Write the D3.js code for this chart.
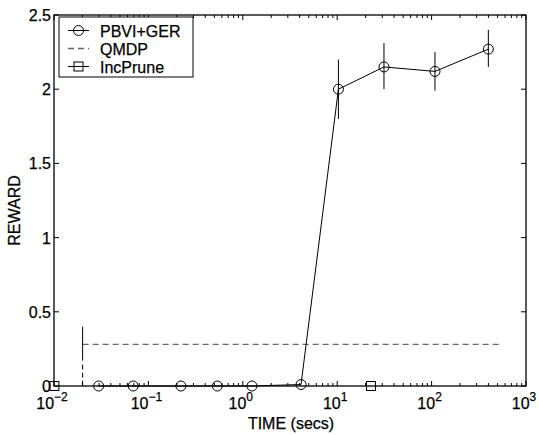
<!DOCTYPE html>
<html>
<head>
<meta charset="utf-8">
<style>
  body { margin: 0; background: #fff; }
  svg text { font-family: "Liberation Sans", Arial, sans-serif; fill: #000; stroke: #000; stroke-width: 0.25; }
</style>
</head>
<body>
<svg id="chart"></svg>
<script src="https://cdn.jsdelivr.net/npm/d3@7"></script>
<script>
// PBVI+GER series (time in secs, reward, error bar low/high)
const pbviTime = [0.0297, 0.069, 0.221, 0.537, 1.25, 4.14, 10.3, 31.3, 108.6, 399];
const pbviReward = [0, 0, 0, 0, 0, 0.01, 2.0, 2.15, 2.12, 2.27];
const pbviErrLow = [null, null, null, null, null, null, 1.80, 2.00, 1.99, 2.15];
const pbviErrHigh = [null, null, null, null, null, null, 2.20, 2.31, 2.25, 2.40];

// QMDP: constant reward over time
const qmdpTime = [0.0201, 553];
const qmdpReward = [0.28, 0.28];
const qmdpErr = [0, 0.40];

// IncPrune
const incTime = [0.0101, 22.8];
const incReward = [0, 0];

const xTickExps = [-2, -1, 0, 1, 2, 3];
const yTicks = [0, 0.5, 1, 1.5, 2, 2.5];
const yTickLabels = ["0", "0.5", "1", "1.5", "2", "2.5"];
const legendNames = ["PBVI+GER", "QMDP", "IncPrune"];

const W = 539, H = 435;
const m = {left: 54, top: 15, right: 13, bottom: 49};
const iw = W - m.left - m.right, ih = H - m.top - m.bottom;

const svg = d3.select("#chart").attr("width", W).attr("height", H);
const g = svg.append("g").attr("transform", "translate(" + m.left + "," + m.top + ")");

const x = d3.scaleLog().domain([1e-2, 1e3]).range([0, iw]);
const y = d3.scaleLinear().domain([0, 2.5]).range([ih, 0]);

// minor/major ticks, inward on all four sides
const majors = xTickExps.map(e => Math.pow(10, e));
const minors = [];
xTickExps.slice(0, -1).forEach(e => {
  for (let k = 2; k <= 9; k++) minors.push(k * Math.pow(10, e));
});

const ticks = g.append("g").attr("stroke", "#000").attr("stroke-width", 1);
majors.forEach(v => {
  ticks.append("line").attr("x1", x(v)).attr("x2", x(v)).attr("y1", ih).attr("y2", ih - 5);
  ticks.append("line").attr("x1", x(v)).attr("x2", x(v)).attr("y1", 0).attr("y2", 5);
});
minors.forEach(v => {
  ticks.append("line").attr("x1", x(v)).attr("x2", x(v)).attr("y1", ih).attr("y2", ih - 3);
  ticks.append("line").attr("x1", x(v)).attr("x2", x(v)).attr("y1", 0).attr("y2", 3);
});
yTicks.forEach(v => {
  ticks.append("line").attr("x1", 0).attr("x2", 5).attr("y1", y(v)).attr("y2", y(v));
  ticks.append("line").attr("x1", iw).attr("x2", iw - 5).attr("y1", y(v)).attr("y2", y(v));
});

// frame
g.append("rect").attr("width", iw).attr("height", ih)
  .attr("fill", "none").attr("stroke", "#000").attr("stroke-width", 1.3);

// y tick labels
g.selectAll(".ylab").data(yTicks).enter().append("text")
  .attr("x", -3).attr("y", d => y(d) + 6)
  .attr("text-anchor", "end").attr("font-size", 16)
  .text((d, i) => yTickLabels[i]);

// x tick labels: 10^e
xTickExps.forEach(e => {
  const t = g.append("text").attr("x", x(Math.pow(10, e)) - 2).attr("y", ih + 23)
    .attr("text-anchor", "middle").attr("font-size", 16);
  t.append("tspan").text("10");
  t.append("tspan").attr("dy", -8).attr("font-size", 12).text(e < 0 ? "\u2212" + (-e) : e);
});

// axis labels
g.append("text").attr("x", iw / 2 + 1).attr("y", ih + 43)
  .attr("text-anchor", "middle").attr("font-size", 16).text("TIME (secs)");
g.append("text").attr("transform", "translate(" + (-34) + "," + (ih / 2 + 10) + ") rotate(-90)")
  .attr("text-anchor", "middle").attr("font-size", 16).text("REWARD");

// QMDP
g.append("line")
  .attr("x1", x(qmdpTime[0])).attr("x2", x(qmdpTime[1]))
  .attr("y1", y(qmdpReward[0])).attr("y2", y(qmdpReward[1]))
  .attr("stroke", "#666").attr("stroke-width", 1.3).attr("stroke-dasharray", "6,4");
g.append("line")
  .attr("x1", x(qmdpTime[0])).attr("x2", x(qmdpTime[0]))
  .attr("y1", y(qmdpErr[1])).attr("y2", y(qmdpErr[0]))
  .attr("stroke", "#000").attr("stroke-width", 1).attr("stroke-dasharray", "34,4,5,3,5,3,5,3");

// PBVI+GER
const pts = pbviTime.map((t, i) => ({t: t, r: pbviReward[i], lo: pbviErrLow[i], hi: pbviErrHigh[i]}));
g.append("path").datum(pts)
  .attr("d", d3.line().x(d => x(d.t)).y(d => y(d.r)))
  .attr("fill", "none").attr("stroke", "#000").attr("stroke-width", 1);
g.selectAll(".err").data(pts.filter(d => d.lo != null)).enter().append("line")
  .attr("x1", d => x(d.t)).attr("x2", d => x(d.t))
  .attr("y1", d => y(d.lo)).attr("y2", d => y(d.hi))
  .attr("stroke", "#000").attr("stroke-width", 1);
g.selectAll(".pc").data(pts).enter().append("circle")
  .attr("cx", d => x(d.t)).attr("cy", d => y(d.r)).attr("r", 5)
  .attr("fill", "none").attr("stroke", "#000").attr("stroke-width", 1);

// IncPrune
g.selectAll(".sq").data(incTime.map((t, i) => ({t: t, r: incReward[i]}))).enter().append("rect")
  .attr("x", d => x(d.t) - 4.5).attr("y", d => y(d.r) - 4.5)
  .attr("width", 9).attr("height", 9)
  .attr("fill", "none").attr("stroke", "#000").attr("stroke-width", 1);

// legend
const lg = g.append("g").attr("transform", "translate(5,2)");
lg.append("rect").attr("width", 134).attr("height", 60)
  .attr("fill", "#fff").attr("stroke", "#000").attr("stroke-width", 1);
legendNames.forEach((name, i) => {
  const cy = 13.5 + i * 18;
  const row = lg.append("g");
  if (i === 1) {
    row.append("line").attr("x1", 9).attr("x2", 30).attr("y1", cy).attr("y2", cy)
      .attr("stroke", "#666").attr("stroke-width", 1.3).attr("stroke-dasharray", "6,4");
  } else {
    row.append("line").attr("x1", 9).attr("x2", 30).attr("y1", cy).attr("y2", cy)
      .attr("stroke", "#000").attr("stroke-width", 1);
  }
  if (i === 0) {
    row.append("circle").attr("cx", 19.5).attr("cy", cy).attr("r", 5)
      .attr("fill", "none").attr("stroke", "#000");
  }
  if (i === 2) {
    row.append("rect").attr("x", 15).attr("y", cy - 4.5).attr("width", 9).attr("height", 9)
      .attr("fill", "none").attr("stroke", "#000");
  }
  row.append("text").attr("x", 41).attr("y", cy + 6).attr("font-size", 16).text(name);
});
</script>
</body>
</html>
